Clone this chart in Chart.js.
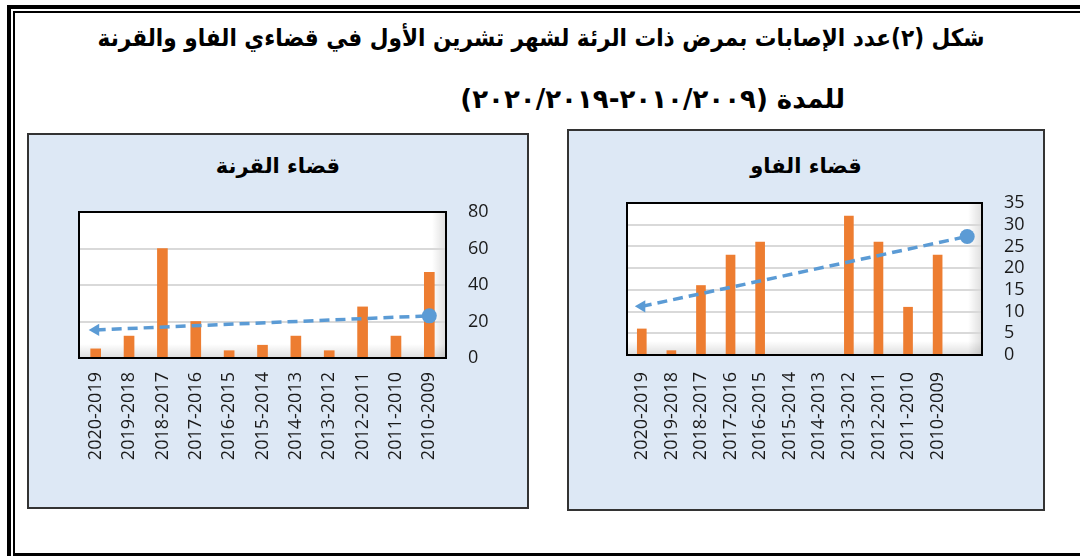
<!DOCTYPE html>
<html lang="ar">
<head>
<meta charset="utf-8">
<script src="https://cdn.jsdelivr.net/npm/chart.js@4.4.1/dist/chart.umd.min.js"></script>
<style>
  html, body { margin: 0; padding: 0; background: #fff; }
  body { width: 1080px; height: 556px; position: relative; overflow: hidden; }
  .frameOuter { position: absolute; left: 7px; top: 5px; width: 1100px; height: 600px;
    border-top: 4px solid #000; border-left: 4px solid #000; }
  .frameInner { position: absolute; left: 13px; top: 11px; width: 1100px; height: 540px;
    border-top: 2px solid #000; border-left: 2px solid #000; border-bottom: 3px solid #000; }
  .mainTitle { position: absolute; direction: rtl; white-space: nowrap;
    font-family: "DejaVu Sans", sans-serif; font-weight: bold; font-size: 24px; color: #000;
    transform-origin: right center; }
  .panel { position: absolute; box-sizing: border-box; background: #dde8f5; border: 2px solid #333; }
  .panelTitle { position: absolute; left: 0; right: 0; text-align: center; direction: rtl;
    font-family: "DejaVu Sans", sans-serif; font-weight: bold; font-size: 21px; color: #000; }
  canvas { position: absolute; }
</style>
</head>
<body>
<div class="frameOuter"></div>
<div class="frameInner"></div>

<div class="mainTitle" style="right:95px; top:24px; transform: scaleX(0.9);">شكل (٢)عدد الإصابات بمرض ذات الرئة لشهر تشرين الأول في قضاءي الفاو والقرنة</div>
<div class="mainTitle" style="right:235px; top:84px; font-size:26px;">للمدة (٢٠٠٩&#x200F;/&#x200F;٢٠١٠-٢٠١٩&#x200F;/&#x200F;٢٠٢٠)</div>

<div class="panel" style="left:27px; top:133px; width:502px; height:376px;">
  <div class="panelTitle" style="top:19px;">قضاء القرنة</div>
</div>
<div class="panel" style="left:567px; top:129px; width:478px; height:382px;">
  <div class="panelTitle" style="top:23px;">قضاء الفاو</div>
</div>

<canvas id="chartQurna" width="502" height="376" style="left:27px; top:133px;"></canvas>
<canvas id="chartFao" width="478" height="382" style="left:567px; top:129px;"></canvas>

<script>
// categories, left to right as in the picture
const qurnaLabels = ["2020-2019", "2019-2018", "2018-2017", "2017-2016", "2016-2015",
  "2015-2014", "2014-2013", "2013-2012", "2012-2011", "2011-2010", "2010-2009"];
const faoLabels = ["2020-2019", "2019-2018", "2018-2017", "2017-2016", "2016-2015",
  "2015-2014", "2014-2013", "2013-2012", "2012-2011", "2011-2010", "2010-2009", ""];

// cases
const qurnaCases = [5, 12, 60, 20, 4, 7, 12, 4, 28, 12, 47];
const faoCases = [6, 1, 16, 23, 26, 0, 0, 32, 26, 11, 23, null];

// trend line end points (arrow on the left, circle on the right)
const qurnaTrend = [15.4, null, null, null, null, null, null, null, null, null, 23.1];
const faoTrend = [11.2, null, null, null, null, null, null, null, null, null, null, 27.3];

const qurnaTicks = { max: 80, step: 20 };
const faoTicks = { max: 35, step: 5 };

const plotBox = {
  id: "plotBox",
  beforeDraw(chart) {
    const { ctx, chartArea: a } = chart;
    ctx.save();
    ctx.fillStyle = "#fff";
    ctx.fillRect(a.left, a.top, a.width, a.height);
    let g = ctx.createLinearGradient(a.right - 14, 0, a.right, 0);
    g.addColorStop(0, "rgba(0,0,0,0)");
    g.addColorStop(1, "rgba(0,0,0,0.13)");
    ctx.fillStyle = g;
    ctx.fillRect(a.right - 14, a.top, 14, a.height);
    g = ctx.createLinearGradient(0, a.bottom - 14, 0, a.bottom);
    g.addColorStop(0, "rgba(0,0,0,0)");
    g.addColorStop(1, "rgba(0,0,0,0.13)");
    ctx.fillStyle = g;
    ctx.fillRect(a.left, a.bottom - 14, a.width, 14);
    ctx.restore();
  },
  afterDatasetsDraw(chart) {
    const { ctx, chartArea: a } = chart;
    ctx.save();
    ctx.strokeStyle = "#000";
    ctx.lineWidth = 2;
    ctx.strokeRect(a.left, a.top, a.width, a.height);
    ctx.restore();
  },
};

function pointArr(n, first, last) {
  const arr = new Array(n).fill(0);
  arr[0] = first;
  arr[n - 1] = last;
  return arr;
}

function createChart(elementId, labels, cases, trend, ticks, pad, barW, tickPad) {
  const n = labels.length;
  const ctx = document.getElementById(elementId).getContext("2d");
  return new Chart(ctx, {
    type: "bar",
    data: {
      labels: labels,
      datasets: [
        {
          type: "line",
          data: trend,
          spanGaps: true,
          borderColor: "#5b9bd5",
          backgroundColor: "#5b9bd5",
          borderWidth: 3.5,
          borderDash: [10, 6],
          pointStyle: pointArr(n, "triangle", "circle"),
          pointRotation: pointArr(n, 270, 0),
          pointRadius: pointArr(n, 7, 7.5),
          pointBorderWidth: 0,
          order: 0,
        },
        {
          data: cases,
          backgroundColor: "#ed7d31",
          barThickness: barW,
          order: 1,
        },
      ],
    },
    options: {
      responsive: false,
      animation: false,
      layout: { padding: pad },
      plugins: {
        legend: { display: false },
        tooltip: { enabled: false },
      },
      scales: {
        x: {
          grid: { display: false, drawTicks: false },
          border: { display: false },
          ticks: {
            autoSkip: false,
            maxRotation: 90,
            minRotation: 90,
            padding: tickPad,
            color: "#1a1a1a",
            font: { family: "Open Sans", size: 18 },
          },
          afterFit(axis) { axis.height = 110; },
        },
        y: {
          position: "right",
          min: 0,
          max: ticks.max,
          grid: { color: "#d9d9d9", lineWidth: 2, drawTicks: false },
          border: { display: false },
          ticks: {
            stepSize: ticks.step,
            autoSkip: false,
            padding: 22,
            color: "#1a1a1a",
            font: { family: "Open Sans", size: 18 },
          },
          afterFit(axis) { axis.width = 60; },
        },
      },
    },
    plugins: [plotBox],
  });
}

createChart("chartQurna", qurnaLabels, qurnaCases, qurnaTrend, qurnaTicks,
  { left: 52, top: 79, right: 23, bottom: 41 }, 10, 14);
createChart("chartFao", faoLabels, faoCases, faoTrend, faoTicks,
  { left: 60, top: 74, right: 3, bottom: 46 }, 9, 17);
</script>
</body>
</html>
